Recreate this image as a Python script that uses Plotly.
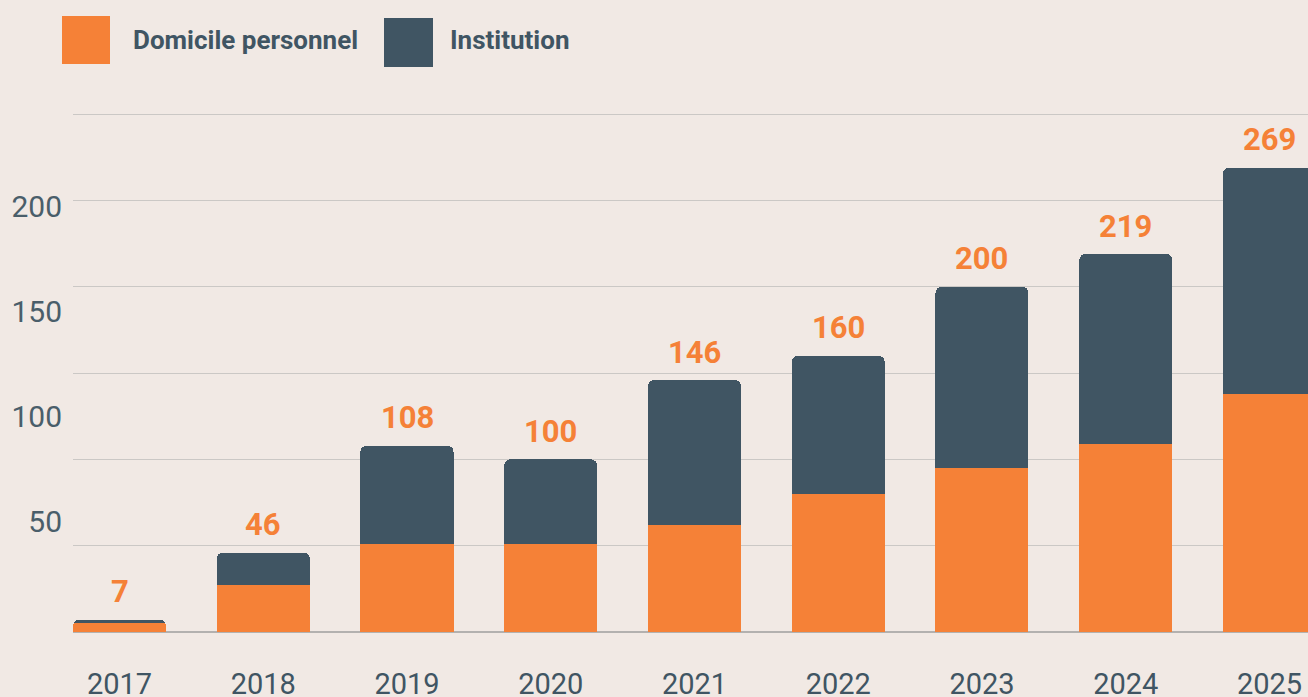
import plotly.graph_objects as go

# ---- data ----
years = ["2017", "2018", "2019", "2020", "2021", "2022", "2023", "2024", "2025"]
domicile = [5, 27, 51, 51, 62, 80, 95, 109, 138]
institution = [2, 19, 57, 49, 84, 80, 105, 110, 131]
totals = [7, 46, 108, 100, 146, 160, 200, 219, 269]
series_names = ["Domicile personnel", "Institution"]
ytick_vals = [50, 100, 150, 200]

# ---- style ----
ORANGE = "#F58137"
SLATE = "#405563"
BG = "#F1E9E4"
FONT = "Roboto"

W, H = 1308, 697
ML, MR, MT, MB = 73, 0, 97, 65
PW, PH = W - ML - MR, H - MT - MB


def px_x(p):
    return (p - ML) / PW


def px_y(p):
    return (H - MB - p) / PH


fig = go.Figure()
fig.add_trace(go.Bar(x=years, y=domicile, name=series_names[0],
                     marker=dict(color=ORANGE, line=dict(width=0)), showlegend=False))
fig.add_trace(go.Bar(x=years, y=institution, name=series_names[1],
                     marker=dict(color=SLATE, line=dict(width=0)), showlegend=False))
# invisible trace to carry the secondary (label) axis
fig.add_trace(go.Scatter(x=years, y=[None] * len(years), yaxis="y2",
                         showlegend=False, hoverinfo="skip"))

annotations = []
for i, t in enumerate(totals):
    annotations.append(dict(x=i, y=t, xref="x", yref="y", text=f"<b>{t}</b>",
                            showarrow=False, yanchor="middle", yshift=28,
                            font=dict(family=FONT, size=31, color=ORANGE)))

# legend (manual, large squares)
shapes = [
    dict(type="rect", xref="paper", yref="paper", x0=px_x(62), x1=px_x(110),
         y0=px_y(64), y1=px_y(16), fillcolor=ORANGE, line=dict(width=0)),
    dict(type="rect", xref="paper", yref="paper", x0=px_x(384), x1=px_x(433),
         y0=px_y(67), y1=px_y(18), fillcolor=SLATE, line=dict(width=0)),
]
annotations.append(dict(x=px_x(131), y=px_y(40), xref="paper", yref="paper",
                        text=f"<b>{series_names[0]}</b>", showarrow=False,
                        xanchor="left", yanchor="middle",
                        font=dict(family=FONT, size=26, color=SLATE)))
annotations.append(dict(x=px_x(448), y=px_y(40), xref="paper", yref="paper",
                        text=f"<b>{series_names[1]}</b>", showarrow=False,
                        xanchor="left", yanchor="middle",
                        font=dict(family=FONT, size=26, color=SLATE)))

fig.update_layout(
    width=W, height=H,
    margin=dict(l=ML, r=MR, t=MT, b=MB, pad=0, autoexpand=False),
    paper_bgcolor=BG, plot_bgcolor=BG,
    barmode="stack", bargap=0.353, barcornerradius=6,
    font=dict(family=FONT, color=SLATE),
    xaxis=dict(type="category", range=[-0.3235, 8.268], showgrid=False,
               zeroline=False, showline=False, ticks="", automargin=False,
               tickfont=dict(family=FONT, size=29, color=SLATE),
               ticklabelstandoff=32),
    yaxis=dict(range=[0, 310], dtick=50, tick0=0, showticklabels=False,
               showgrid=True, gridcolor="#CBC8C5", gridwidth=1,
               zeroline=True, zerolinecolor="#B3B1AF", zerolinewidth=2,
               showline=False, ticks="", automargin=False),
    yaxis2=dict(overlaying="y", side="left", range=[-2.9, 252.5],
                tickvals=ytick_vals, showgrid=False, zeroline=False,
                showline=False, ticks="", automargin=False,
                tickfont=dict(family=FONT, size=30, color="#4A5E6A"),
                ticklabelstandoff=10),
    annotations=annotations,
    shapes=shapes,
)

fig.write_html(
    "out.html",
    config={"displayModeBar": False},
    post_script="document.body.style.margin='0';document.body.style.overflow='hidden';",
)
